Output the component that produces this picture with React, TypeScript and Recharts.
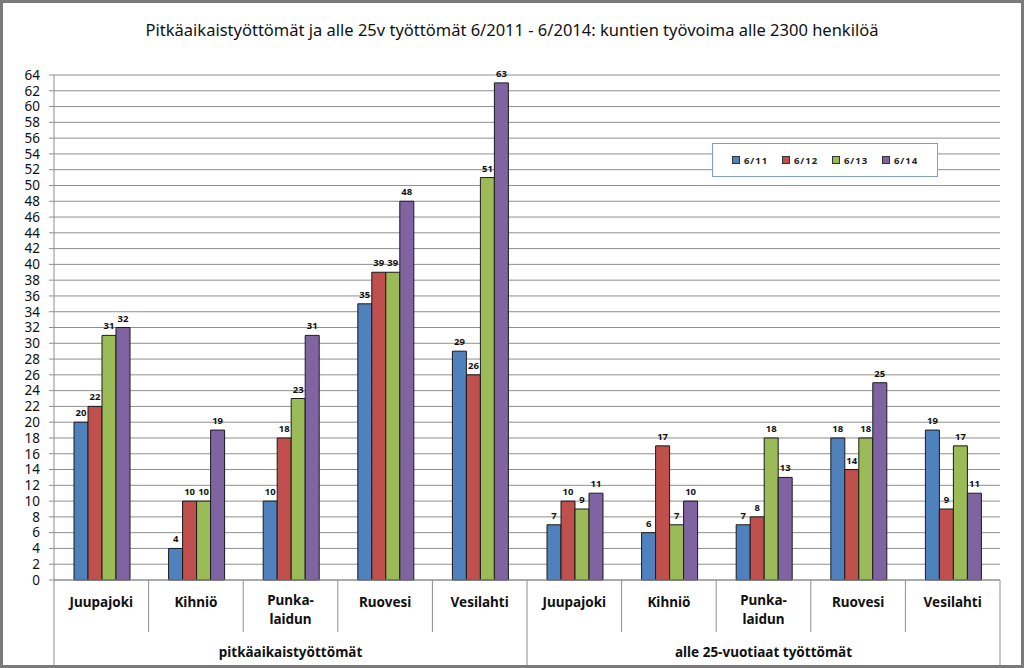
import React from "react";
import { BarChart, Bar, XAxis, YAxis, CartesianGrid, Legend, LabelList } from "recharts";

const municipalities = ["Juupajoki", "Kihniö", "Punka-laidun", "Ruovesi", "Vesilahti"];
const groups = ["pitkäaikaistyöttömät", "alle 25-vuotiaat työttömät"];
const seriesNames = ["6/11", "6/12", "6/13", "6/14"];
const colors = ["#4F81BD", "#C0504D", "#9BBB59", "#8064A2"];

// values per series, pitkäaikaistyöttömät then alle 25-vuotiaat
const v611 = [20, 4, 10, 35, 29, 7, 6, 7, 18, 19];
const v612 = [22, 10, 18, 39, 26, 10, 17, 8, 14, 9];
const v613 = [31, 10, 23, 39, 51, 9, 7, 18, 18, 17];
const v614 = [32, 19, 31, 48, 63, 11, 10, 13, 25, 11];
const yTicks = [0, 2, 4, 6, 8, 10, 12, 14, 16, 18, 20, 22, 24, 26, 28, 30, 32, 34, 36, 38, 40, 42, 44, 46, 48, 50, 52, 54, 56, 58, 60, 62, 64];

const seriesValues = [v611, v612, v613, v614];

const data = groups.flatMap((g, gi) =>
    municipalities.map((m, mi) => {
        const i = gi * municipalities.length + mi;
        const row: any = { name: m, group: g };
        seriesNames.forEach((s, si) => { row[s] = seriesValues[si][i]; });
        return row;
    })
);

const W = 1024;
const H = 668;
const M = { top: 75, right: 24, bottom: 0, left: 0 };
const Y_W = 54;
const BAND = (W - M.left - M.right - Y_W) / data.length;
const AXIS_Y = 580;
const GRID = "#8f8f8f";
const FONT = "'Noto Sans', sans-serif";

function CategoryTick(props: any) {
    const { x, index } = props;
    const row = data[index];
    const parts = row.name.includes("-") ? [row.name.split("-")[0] + "-", row.name.split("-")[1]] : [row.name];
    const left = x - BAND / 2;
    const groupStart = index % municipalities.length === 0;
    const mid = index % municipalities.length === 2;
    return (
        <g>
            <line x1={left} x2={left} y1={AXIS_Y} y2={groupStart ? 665 : 632} stroke={GRID} />
            {index === data.length - 1 && (
                <line x1={x + BAND / 2} x2={x + BAND / 2} y1={AXIS_Y} y2={665} stroke={GRID} />
            )}
            {parts.map((p: string, k: number) => (
                <text key={k} x={x} y={parts.length > 1 ? 605 + k * 19 : 607} textAnchor="middle"
                    fontFamily={FONT} fontSize={13.5} fontWeight="bold" fill="#111">
                    {p}
                </text>
            ))}
            {mid && (
                <text x={x} y={657} textAnchor="middle" fontFamily={FONT} fontSize={13.5} fontWeight="bold" fill="#111">
                    {row.group}
                </text>
            )}
        </g>
    );
}

function LegendBox(props: any) {
    const items = props.payload || [];
    return (
        <div style={{ width: 226, height: 34, border: "1px solid #7f9fcf", background: "#fff", display: "flex", alignItems: "center", justifyContent: "space-around", padding: "0 12px", boxSizing: "border-box" }}>
            {items.map((it: any) => (
                <span key={it.value} style={{ display: "flex", alignItems: "center", fontFamily: FONT, fontSize: 9.5, fontWeight: "bold", color: "#222", letterSpacing: 1 }}>
                    <span style={{ width: 6, height: 6, background: it.color, border: "1px solid #333", marginRight: 4, display: "inline-block" }} />
                    {it.value}
                </span>
            ))}
        </div>
    );
}

export default function App() {
    return (
        <div style={{ position: "absolute", left: 0, top: 0, width: W, height: H, background: "#fff" }}>
            <div style={{ position: "absolute", left: 0, top: 18, width: W, textAlign: "center", fontFamily: FONT, fontSize: 16.5, color: "#111", zIndex: 2 }}>
                Pitkäaikaistyöttömät ja alle 25v työttömät 6/2011 - 6/2014: kuntien työvoima alle 2300 henkilöä
            </div>
            <BarChart width={W} height={H} data={data} margin={M} barCategoryGap={20} barGap={0}>
                <CartesianGrid vertical={false} stroke={GRID} />
                <XAxis dataKey="name" height={88} interval={0} axisLine={{ stroke: GRID }} tickLine={false}
                    tick={<CategoryTick />} />
                <YAxis width={Y_W} domain={[0, 64]} ticks={yTicks} interval={0} axisLine={{ stroke: GRID }}
                    tickLine={{ stroke: GRID }} tickSize={5} tickMargin={9}
                    tick={{ fontFamily: FONT, fontSize: 13.5, fill: "#111" }} />
                <Legend layout="horizontal" verticalAlign="middle" align="center" content={<LegendBox />}
                    wrapperStyle={{ position: "absolute", left: 712, top: 143, width: 226 }} />
                {seriesNames.map((s, i) => (
                    <Bar key={s} dataKey={s} fill={colors[i]} stroke="#1a1a1a" strokeWidth={1} isAnimationActive={false}>
                        <LabelList dataKey={s} position="top" offset={6} fontFamily={FONT} fontSize={9.5} fontWeight="bold" fill="#111" />
                    </Bar>
                ))}
            </BarChart>
            <div style={{ position: "absolute", left: 0, top: 0, width: W, height: H, border: "3px solid #7a7a7a", boxSizing: "border-box", pointerEvents: "none" }} />
        </div>
    );
}
